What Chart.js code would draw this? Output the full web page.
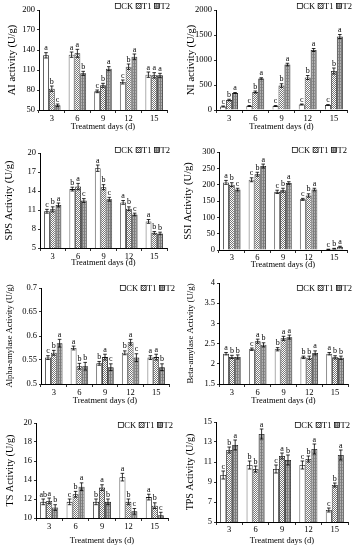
<!DOCTYPE html>
<html><head><meta charset="utf-8">
<script src="https://cdn.jsdelivr.net/npm/chart.js@4"></script>
<style>
html,body{margin:0;padding:0;background:#fff;}
body{width:355px;height:550px;position:relative;overflow:hidden;}
canvas{position:absolute;}
</style></head><body>
<script>
// ---------- data ----------
const days = ['3','6','9','12','15'];
const seriesNames = ['CK','T1','T2'];

const aiCK = [132,133,78,92,103];
const aiT1 = [82,135,87,115,102];
const aiT2 = [57,105,112,130,102];
const aiErr = [[4,4,2,3,4],[4,6,3,4,4],[2,3,3,4,3]];
const aiLetters = [['a','a','c','c','a'],['b','a','b','b','a'],['c','b','a','a','a']];
const aiTicks = [50,80,110,140,170,200];

const niCK = [70,80,80,110,100];
const niT1 = [200,360,490,650,780];
const niT2 = [340,630,910,1200,1470];
const niErr = [[10,10,10,10,8],[15,20,35,40,60],[10,15,25,30,40]];
const niLetters = [['c','c','c','c','c'],['b','b','b','b','b'],['a','a','a','a','a']];
const niTicks = [0,500,1000,1500,2000];

const spsCK = [10.8,14.3,17.6,12.2,9.2];
const spsT1 = [11.1,14.7,14.6,11.2,7.4];
const spsT2 = [11.8,12.5,12.7,10.3,7.3];
const spsErr = [[0.3,0.3,0.5,0.3,0.3],[0.4,0.5,0.4,0.3,0.2],[0.3,0.3,0.3,0.2,0.2]];
const spsLetters = [['c','b','a','a','a'],['b','a','b','b','b'],['a','c','c','c','b']];
const spsTicks = [5,8,11,14,17,20];

const ssiCK = [207,215,178,155,2];
const ssiT1 = [200,232,183,167,4];
const ssiT2 = [185,257,205,185,10];
const ssiErr = [[6,6,5,3,0.5],[6,6,6,5,1],[4,6,4,4,1.5]];
const ssiLetters = [['a','c','c','c','c'],['b','b','b','b','b'],['c','a','a','a','a']];
const ssiTicks = [0,50,100,150,200,250,300];

const alphaCK = [0.555,0.575,0.543,0.565,0.555];
const alphaT1 = [0.565,0.537,0.556,0.587,0.556];
const alphaT2 = [0.585,0.537,0.535,0.555,0.535];
const alphaErr = [[0.004,0.004,0.004,0.004,0.004],[0.005,0.006,0.006,0.006,0.006],[0.008,0.008,0.007,0.008,0.007]];
const alphaLetters = [['c','a','b','b','a'],['b','b','a','a','a'],['a','b','c','c','b']];
const alphaTicks = [0.5,0.55,0.6,0.65,0.7];

const betaCK = [2.25,2.36,2.36,2.16,2.25];
const betaT1 = [2.17,2.56,2.63,2.15,2.16];
const betaT2 = [2.17,2.47,2.66,2.27,2.15];
const betaErr = [[0.03,0.03,0.04,0.03,0.03],[0.04,0.05,0.05,0.04,0.04],[0.05,0.05,0.05,0.05,0.04]];
const betaLetters = [['a','c','b','b','a'],['b','a','a','b','b'],['b','b','a','a','b']];
const betaTicks = [1.5,2,2.5,3,3.5,4];

const tsCK = [11.7,11.7,11.7,14.3,12.2];
const tsT1 = [11.8,12.5,13.2,11.7,11.3];
const tsT2 = [11.1,13.3,11.7,10.7,10.3];
const tsErr = [[0.3,0.3,0.3,0.4,0.3],[0.3,0.3,0.3,0.3,0.3],[0.3,0.4,0.3,0.3,0.3]];
const tsLetters = [['ab','c','b','a','a'],['a','b','a','b','b'],['b','a','b','c','c']];
const tsTicks = [10,12,14,16,18,20];

const tpsCK = [9.7,10.7,10.3,10.7,6.2];
const tpsT1 = [12.2,10.3,11.6,11.3,8.7];
const tpsT2 = [12.7,13.8,11.2,12.3,11.7];
const tpsErr = [[0.4,0.4,0.4,0.4,0.2],[0.3,0.3,0.3,0.3,0.2],[0.5,0.5,0.5,0.5,0.5]];
const tpsLetters = [['c','b','c','c','c'],['b','b','a','b','b'],['a','a','b','a','a']];
const tpsTicks = [5,7,9,11,13,15];

const xTitle = 'Treatment days (d)';

// ---------- styling ----------
const FONT = "'Liberation Serif','Times New Roman',serif";

function makePattern(kind){
  const c = document.createElement('canvas');
  const g = c.getContext('2d');
  if (kind === 'T1') {
    c.width = 2; c.height = 2;
    g.fillStyle = '#ffffff'; g.fillRect(0,0,2,2);
    g.fillStyle = '#777777'; g.fillRect(0,0,1,1); g.fillRect(1,1,1,1);
  } else {
    c.width = 2; c.height = 3;
    g.fillStyle = '#b2b2b2'; g.fillRect(0,0,2,3);
    g.fillStyle = '#7a7a7a'; g.fillRect(0,0,1,3);
    g.fillStyle = '#8e8e8e'; g.fillRect(1,0,1,1);
  }
  return g.createPattern(c,'repeat');
}
const fills = ['#ffffff', makePattern('T1'), makePattern('T2')];

const rows = [[0,135],[135,137],[272,138],[410,140]];
const cols = [[0,177],[177,178]];

const panels = [
 {vals:[aiCK,aiT1,aiT2], err:aiErr, letters:aiLetters, ticks:aiTicks, yTitle:'AI activity (U/g)', col:0,row:0, L:39,R:167,T:10,B:110, labelY:119, titleY:127, yTitleX:12, yTitleSize:10.5, legR:170, legY:6},
 {vals:[niCK,niT1,niT2], err:niErr, letters:niLetters, ticks:niTicks, yTitle:'NI activity (U/g)', col:1,row:0, L:216,R:347,T:10,B:110, labelY:119, titleY:127, yTitleX:191, yTitleSize:10.5, legR:352, legY:6},
 {vals:[spsCK,spsT1,spsT2], err:spsErr, letters:spsLetters, ticks:spsTicks, yTitle:'SPS Activity (U/g)', col:0,row:1, L:40,R:167,T:153,B:248, labelY:257, titleY:263, yTitleX:9, yTitleSize:10.5, legR:170, legY:150},
 {vals:[ssiCK,ssiT1,ssiT2], err:ssiErr, letters:ssiLetters, ticks:ssiTicks, yTitle:'SSI Activity (U/g)', col:1,row:1, L:219,R:347,T:152,B:250, labelY:257, titleY:265, yTitleX:188, yTitleSize:10.5, legR:347, legY:150},
 {vals:[alphaCK,alphaT1,alphaT2], err:alphaErr, letters:alphaLetters, ticks:alphaTicks, yTitle:'Alpha-amylase Activity (U/g)', col:0,row:2, L:41,R:169,T:288,B:384, labelY:393, titleY:401, yTitleX:10, yTitleSize:8.6, legR:175, legY:288},
 {vals:[betaCK,betaT1,betaT2], err:betaErr, letters:betaLetters, ticks:betaTicks, yTitle:'Beta-amylase Activity (U/g)', col:1,row:2, L:219,R:348,T:283,B:384, labelY:393, titleY:401, yTitleX:191, yTitleSize:8.8, legR:352, legY:288},
 {vals:[tsCK,tsT1,tsT2], err:tsErr, letters:tsLetters, ticks:tsTicks, yTitle:'TS Activity (U/g)', col:0,row:3, L:36,R:168,T:423,B:518, labelY:527, titleY:541, yTitleX:10, yTitleSize:10.1, legR:173, legY:425},
 {vals:[tpsCK,tpsT1,tpsT2], err:tpsErr, letters:tpsLetters, ticks:tpsTicks, yTitle:'TPS Activity (U/g)', col:1,row:3, L:216,R:348,T:422,B:522, labelY:528, titleY:541, yTitleX:190, yTitleSize:10, legR:350, legY:425}
];

const annot = {
  id:'annot',
  afterDatasetsDraw(chart, args, opts){
    const p = opts.panel;
    const ctx = chart.ctx;
    const ys = chart.scales.y;
    ctx.save();
    ctx.strokeStyle = '#000'; ctx.lineWidth = 0.8;
    ctx.fillStyle = '#000';
    ctx.font = "8px " + FONT;
    ctx.textAlign = 'center'; ctx.textBaseline = 'bottom';
    p.vals.forEach((arr, i) => {
      const meta = chart.getDatasetMeta(i);
      meta.data.forEach((el, j) => {
        const v = arr[j], e = p.err[i][j];
        const x = el.x;
        const yt = ys.getPixelForValue(v + e);
        const yb = Math.min(ys.getPixelForValue(v - e), ys.bottom);
        ctx.beginPath();
        ctx.moveTo(x, yb); ctx.lineTo(x, yt);
        ctx.moveTo(x-1.8, yt); ctx.lineTo(x+1.8, yt);
        if (yb < ys.bottom) { ctx.moveTo(x-1.8, yb); ctx.lineTo(x+1.8, yb); }
        ctx.stroke();
        ctx.fillText(p.letters[i][j], x, yt - 0.5);
      });
    });
    // legend
    const lx = p.legR - p.cx, ly = p.legY - p.cy;
    ctx.font = "8.5px " + FONT;
    ctx.textAlign = 'left'; ctx.textBaseline = 'middle';
    const box = 5, gapTxt = 1, gapItem = 3;
    let widths = seriesNames.map(n => box + gapTxt + ctx.measureText(n).width);
    let total = widths.reduce((a,b)=>a+b,0) + gapItem*(seriesNames.length-1);
    let x = lx - total;
    seriesNames.forEach((n, i) => {
      ctx.fillStyle = fills[i];
      ctx.fillRect(x, ly - box/2, box, box);
      ctx.strokeStyle = '#000'; ctx.lineWidth = 0.7;
      ctx.strokeRect(x, ly - box/2, box, box);
      ctx.fillStyle = '#000';
      ctx.fillText(n, x + box + gapTxt, ly + 0.5);
      x += widths[i] + gapItem;
    });
    ctx.restore();
  }
};

panels.forEach(p => {
  const [cx, cw] = cols[p.col];
  const [cy, ch] = rows[p.row];
  p.cx = cx; p.cy = cy;
  const cv = document.createElement('canvas');
  cv.width = cw; cv.height = ch;
  cv.style.left = cx + 'px'; cv.style.top = cy + 'px';
  cv.style.width = cw + 'px'; cv.style.height = ch + 'px';
  document.body.appendChild(cv);
  const tickFont = {family: FONT, size: 8.5};
  const xTickPad = Math.max(0, p.labelY - p.B - 3 - 5.1);
  const xTitlePad = Math.max(0, (cy + ch) - p.titleY - 5.1);
  const yTitlePad = Math.max(0, p.yTitleX - cx - 0.6 * p.yTitleSize);
  new Chart(cv, {
    type:'bar',
    data:{
      labels: days,
      datasets: seriesNames.map((n, i) => ({
        label: n, data: p.vals[i],
        backgroundColor: fills[i], borderColor:'#111', borderWidth:0.8,
        categoryPercentage:0.68, barPercentage:1.0
      }))
    },
    options:{
      responsive:false, animation:false, events:[], devicePixelRatio:1,
      layout:{padding:{left:0, top:p.T - cy, right:(cx + cw) - p.R, bottom:0}},
      plugins:{legend:{display:false}, tooltip:{enabled:false}, annot:{panel:p}},
      scales:{
        x:{
          grid:{display:true, drawOnChartArea:false, tickLength:3, color:'#000', lineWidth:0.8},
          border:{display:true, color:'#000', width:1},
          ticks:{font:tickFont, color:'#000', padding:xTickPad, maxRotation:0, autoSkip:false},
          title:{display:true, text:xTitle, color:'#000', font:{family:FONT, size:8.5}, padding:{top:0, bottom:xTitlePad}},
          afterFit(s){ s.height = (cy + ch) - p.B; }
        },
        y:{
          min: p.ticks[0], max: p.ticks[p.ticks.length-1],
          afterBuildTicks(s){ s.ticks = p.ticks.map(v => ({value:v})); },
          grid:{display:true, drawOnChartArea:false, tickLength:2, color:'#000', lineWidth:0.8},
          border:{display:true, color:'#000', width:1},
          ticks:{font:tickFont, color:'#000', padding:2, callback:(v) => String(v)},
          title:{display:true, text:p.yTitle, color:'#000', font:{family:FONT, size:p.yTitleSize}, padding:{top:yTitlePad, bottom:0}},
          afterFit(s){ s.width = p.L - cx; }
        }
      }
    },
    plugins:[annot]
  });
});
</script>
</body></html>
